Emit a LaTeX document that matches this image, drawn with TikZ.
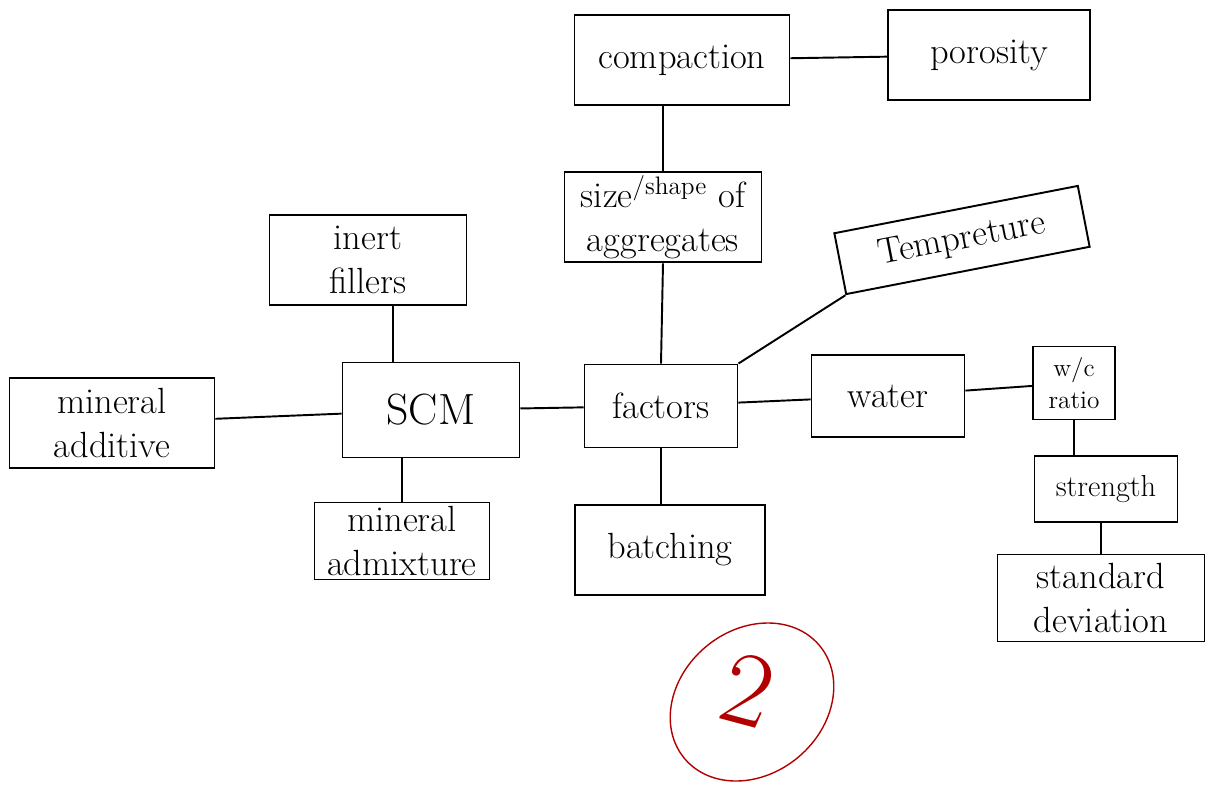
\documentclass[tikz,border=0pt]{standalone}
\usetikzlibrary{positioning}
\tikzset{
	box/.style={draw,line width=1.1pt,inner sep=2pt,align=center,font=\huge},
	link/.style={line width=1.1pt}
}
\begin{document}
\begin{tikzpicture}[x=0.02cm,y=-0.02cm]
	\useasboundingbox (0,0) rectangle (1215,789);
	% top row
	\node[box,minimum width=215*0.02cm,minimum height=90*0.02cm] (comp) at (682,60) {compaction};
	\node[box,minimum width=202*0.02cm,minimum height=90*0.02cm] (poro) at (989,55) {porosity};
	\node[box,minimum width=197*0.02cm,minimum height=90*0.02cm] (size) at (663,217) {size\textsuperscript{/shape} of\\aggregates};
	\node[box,minimum width=197*0.02cm,minimum height=90*0.02cm] (inert) at (368,260) {inert\\fillers};
	\node[box,minimum width=248*0.02cm,minimum height=62*0.02cm,rotate=11] (temp) at (962,240) {Tempreture};
	% middle row
	\node[box,minimum width=205*0.02cm,minimum height=90*0.02cm] (addi) at (112,423) {mineral\\additive};
	\node[box,minimum width=177*0.02cm,minimum height=95*0.02cm,font=\Huge] (scm) at (431,410) {SCM};
	\node[box,minimum width=153*0.02cm,minimum height=83*0.02cm] (fact) at (661,406) {factors};
	\node[box,minimum width=153*0.02cm,minimum height=82*0.02cm] (water) at (888,396) {water};
	\node[box,minimum width=82*0.02cm,minimum height=73*0.02cm,font=\Large] (wc) at (1074,383) {w/c\\ratio};
	\node[box,minimum width=143*0.02cm,minimum height=66*0.02cm,font=\LARGE] (str) at (1106,489) {strength};
	\node[box,minimum width=207*0.02cm,minimum height=87*0.02cm] (sdev) at (1101,598) {standard\\deviation};
	% bottom row
	\node[box,minimum width=175*0.02cm,minimum height=77*0.02cm,inner sep=1pt] (admix) at (402,541) {mineral\\admixture};
	\node[box,minimum width=190*0.02cm,minimum height=90*0.02cm] (batch) at (670,550) {batching};
	% connectors
	\draw[link] (comp) -- (poro);
	\draw[link] (comp.south -| size.north) -- (size.north);
	\draw[link] (size.south) -- (fact.north);
	\draw[link] ([xshift=25*0.02cm]inert.south) -- ([xshift=25*0.02cm]inert.south |- scm.north);
	\draw[link] (addi) -- (scm);
	\draw[link] (scm) -- (fact);
	\draw[link] (fact.north east) -- (temp.south west);
	\draw[link] (fact) -- (water);
	\draw[link] (water) -- (wc);
	\draw[link] (wc.south) -- (wc.south |- str.north);
	\draw[link] (str.south -| sdev.north) -- (sdev.north);
	\draw[link] (scm.south -| admix.north) -- (admix.north);
	\draw[link] (fact.south) -- (fact.south |- batch.north);
	% red mark
	\draw[red!70!black,thick,rotate around={40:(752,702)}] (752,702) ellipse (88 and 72);
	\node[text=red!70!black,font=\fontsize{60}{60}\selectfont,rotate=-15] (mark) at (748,690) {2};
\end{tikzpicture}
\end{document}
